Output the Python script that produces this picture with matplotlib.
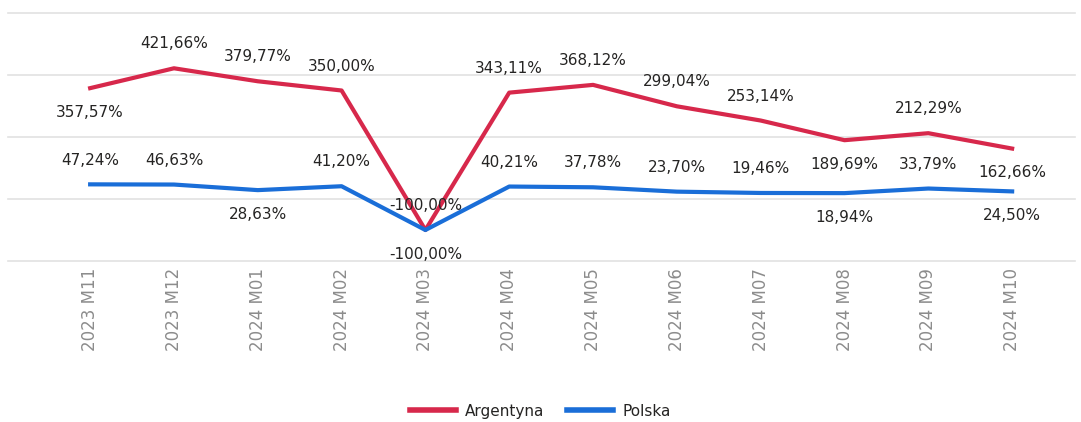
import matplotlib
matplotlib.use("Agg")
import matplotlib.pyplot as plt

months = ["2023 M11", "2023 M12", "2024 M01", "2024 M02", "2024 M03", "2024 M04",
          "2024 M05", "2024 M06", "2024 M07", "2024 M08", "2024 M09", "2024 M10"]
argentyna = [357.57, 421.66, 379.77, 350.00, -100.00, 343.11,
             368.12, 299.04, 253.14, 189.69, 212.29, 162.66]
polska = [47.24, 46.63, 28.63, 41.20, -100.00, 40.21,
          37.78, 23.70, 19.46, 18.94, 33.79, 24.50]

# label above (+1) or below (-1) the point
arg_side = [-1, 1, 1, 1, 1, 1, 1, 1, 1, -1, 1, -1]
pol_side = [1, 1, -1, 1, -1, 1, 1, 1, 1, -1, 1, -1]

red = "#D7284B"
blue = "#1A6ED8"
text_col = "#252423"

fig = plt.figure(figsize=(10.81, 4.22), dpi=100)
ax = fig.add_axes([8 / 1081, 1 - 261 / 422, 1067 / 1081, 248 / 422])

x = list(range(len(months)))
ax.plot(x, argentyna, color=red, lw=3, label="Argentyna", solid_joinstyle="round", zorder=3)
ax.plot(x, polska, color=blue, lw=3, label="Polska", solid_joinstyle="round", zorder=3)


def fmt(v):
    return f"{v:.2f}".replace(".", ",") + "%"


for xi, v, s in zip(x, argentyna, arg_side):
    ax.annotate(fmt(v), (xi, v), xytext=(0, 17.5 * s), textcoords="offset points",
                ha="center", va="center", fontsize=11, color=text_col, zorder=4)
for xi, v, s in zip(x, polska, pol_side):
    ax.annotate(fmt(v), (xi, v), xytext=(0, 17.5 * s), textcoords="offset points",
                ha="center", va="center", fontsize=11, color=text_col, zorder=4)

ax.set_ylim(-200, 600)
ax.set_xlim(-0.98, 11.75)
ax.set_yticks([-200, 0, 200, 400, 600])
ax.set_yticklabels([])
ax.tick_params(axis="y", length=0)
ax.grid(axis="y", color="#E1E1E1", lw=1.2)
for g in ax.get_ygridlines():
    g.set_clip_on(False)
ax.set_axisbelow(True)
for sp in ax.spines.values():
    sp.set_visible(False)

ax.set_xticks(x)
ax.set_xticklabels(months, rotation=90, fontsize=12, color="#8C8C8C")
ax.tick_params(axis="x", length=0, pad=5)

fig.legend(loc="lower center", bbox_to_anchor=(0.5, -0.025), ncol=2, frameon=False,
           fontsize=11, handlelength=3, handletextpad=0.6, columnspacing=1.5,
           labelcolor=text_col)
for line in fig.legends[0].get_lines():
    line.set_linewidth(4)

fig.savefig("out.png", dpi=100)
